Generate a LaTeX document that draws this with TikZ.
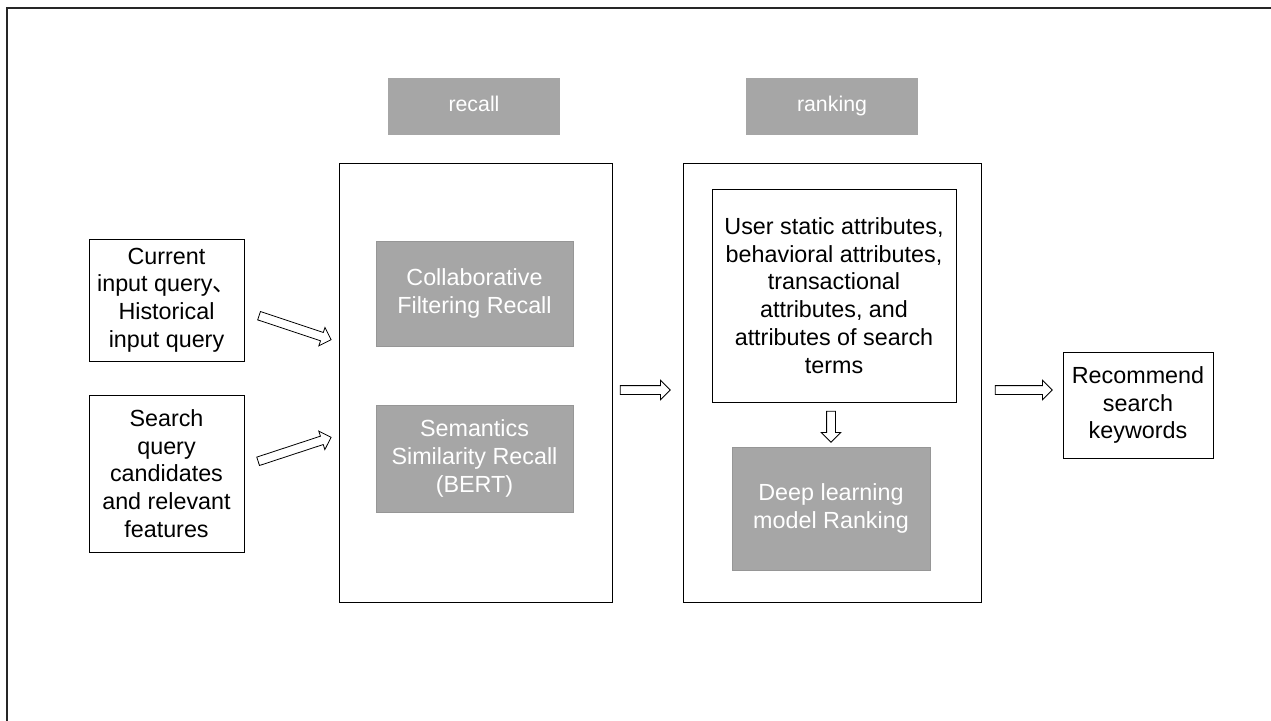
\documentclass[tikz,border=0pt]{standalone}
\usepackage{fontspec}
\setmainfont{Liberation Sans}
\newfontfamily\cjk{Noto Sans CJK SC}
\usetikzlibrary{shapes.arrows}
\definecolor{boxgray}{RGB}{166,166,166}
\definecolor{edgegray}{RGB}{150,150,150}
\tikzset{
  plain/.style={draw, line width=0.7pt, align=center, inner sep=2pt,
    font=\fontsize{17.5}{20.8}\selectfont},
  greybox/.style={fill=boxgray, draw=edgegray, line width=0.6pt, text=white,
    align=center, inner sep=2pt, font=\fontsize{17.5}{20.8}\selectfont},
  tag/.style={fill=boxgray, text=white, minimum width=129pt, minimum height=42.75pt,
    text height=0.9em, text depth=0.1em, font=\fontsize{16}{18}\selectfont},
  hollow/.style={single arrow, draw, fill=white, line width=0.6pt,
    inner xsep=0pt, inner ysep=3pt, single arrow head extend=4pt}
}
\begin{document}
\begin{tikzpicture}[x=0.75pt,y=-0.75pt]
  \useasboundingbox (0,0) rectangle (1271,721);
  % frame
  \draw[line width=1.2pt, black!85] (7,721) -- (7,8) -- (1271,8);

  %% stage tags
  \node[tag] (recalltag) at (474,106.5) {recall};
  \node[tag] (ranktag) at (832,106.5) {ranking};

  %% stage boxes
  \node[plain, minimum width=204.75pt, minimum height=329.25pt] (recall) at (475.5,382.5) {};
  \node[plain, minimum width=223.5pt, minimum height=329.25pt] (ranking) at (832,382.5) {};

  % inputs
  \node[plain, minimum width=116.25pt, minimum height=91.5pt] (current) at (166.5,300)
    {Current\\input query{\cjk 、}\\Historical\\input query};
  \node[plain, minimum width=116.25pt, minimum height=117.75pt] (search) at (166.5,473.5)
    {Search\\query\\candidates\\and relevant\\features};

  % recall part
  \node[greybox, minimum width=147.75pt, minimum height=78.75pt] (cfrecall) at (474.5,293.5)
    {Collaborative\\Filtering Recall};
  \node[greybox, minimum width=147.75pt, minimum height=80.25pt] (semrecall) at (474.5,458.5)
    {Semantics\\Similarity Recall\\(BERT)};

  % ranking part
  \node[plain, minimum width=183pt, minimum height=159.75pt] (attrs) at (834,295.5)
    {User static attributes,\\behavioral attributes,\\transactional\\attributes, and\\attributes of search\\terms};
  \node[greybox, minimum width=148.5pt, minimum height=92.25pt] (deep) at (831,508.5)
    {Deep learning\\model Ranking};

  % output
  \node[plain, minimum width=112.5pt, minimum height=79.5pt] (recommend) at (1138,405)
    {Recommend\\search\\keywords};

  %% block arrows
  \node[hollow, minimum height=57pt, rotate=-18.4] (arrA) at (293,327) {};
  \node[hollow, minimum height=57.6pt, rotate=18.2] (arrB) at (292.5,450) {};
  \node[hollow, minimum height=37.5pt] (arrC) at (643,390) {};
  \node[hollow, minimum height=23.25pt, rotate=-90] (arrD) at (831,424.5) {};
  \node[hollow, minimum height=42.75pt] (arrE) at (1021.5,390) {};
\end{tikzpicture}
\end{document}
